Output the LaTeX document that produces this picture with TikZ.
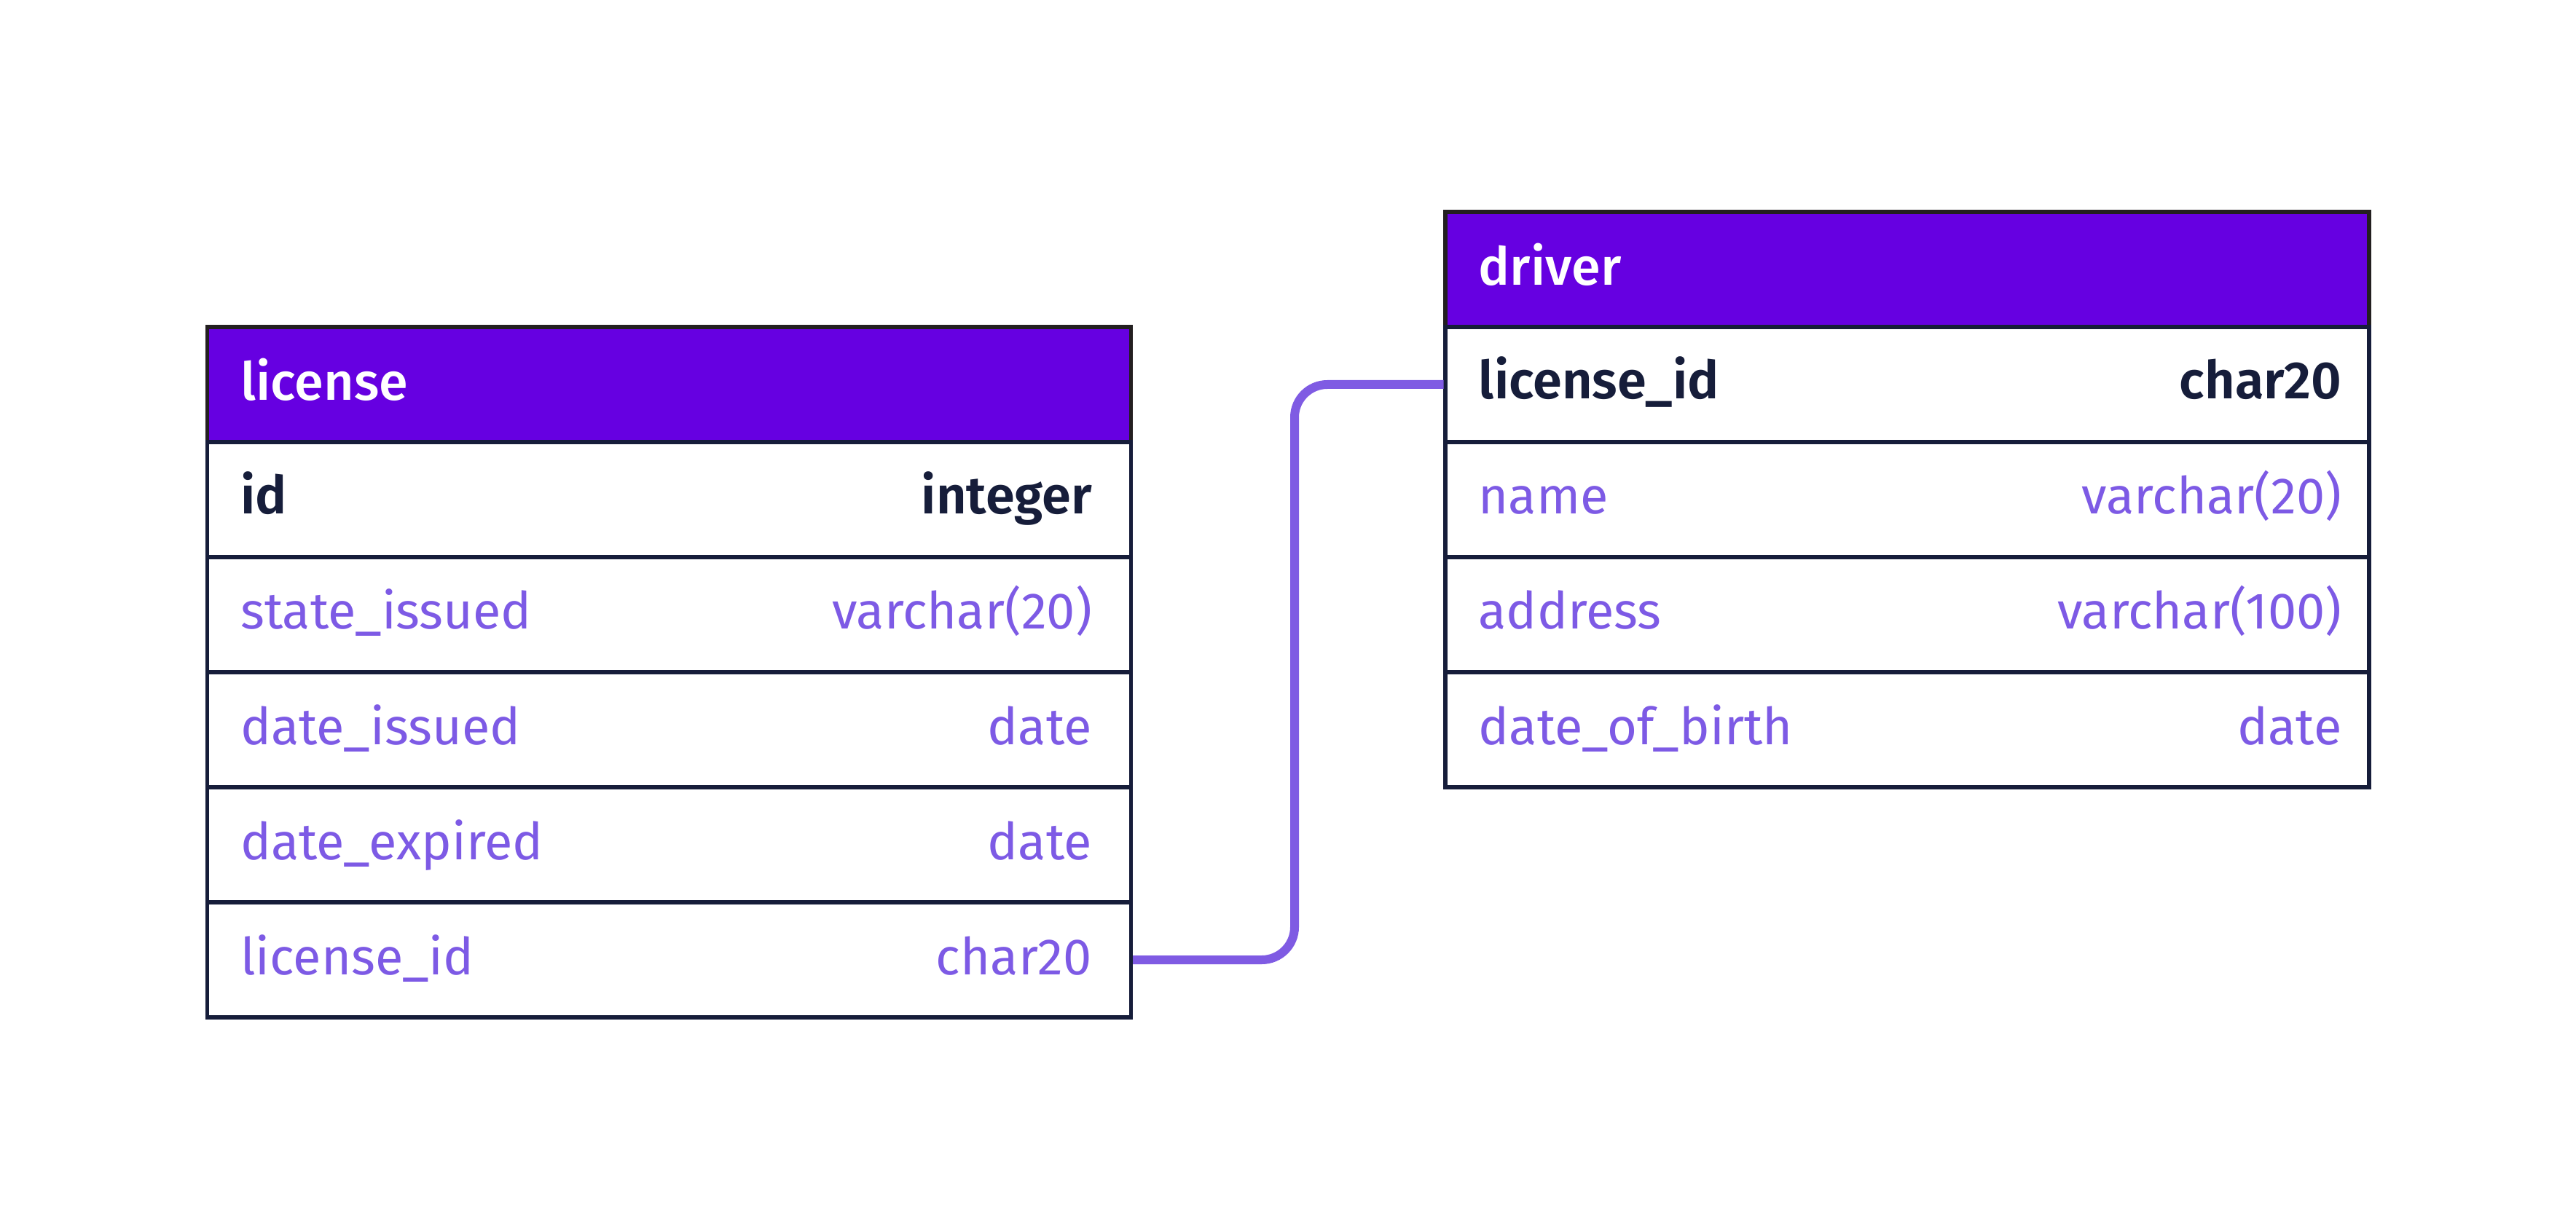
\documentclass[tikz,border=0pt]{standalone}
\usepackage{fontspec}
\setmainfont{Fira Sans}
\newfontfamily\headfont{Fira Sans Medium}
\newfontfamily\keyfont{Fira Sans SemiBold}
\usepackage{xcolor}
\definecolor{headfill}{HTML}{6600E1}
\definecolor{gridline}{HTML}{161D3A}
\definecolor{headedge}{HTML}{231F20}
\definecolor{fieldtext}{HTML}{7D5AE5}
\definecolor{keytext}{HTML}{161D3A}
\definecolor{linkline}{HTML}{7F5BE3}
\usepackage{tikz}
\usetikzlibrary{positioning}

\begin{document}
\begin{tikzpicture}[
  font=\fontsize{20}{24}\selectfont,
  cell/.style={
    draw=gridline, line width=0.055cm, fill=white, outer sep=0pt,
    minimum width=12.68cm, minimum height=1.58cm, inner sep=0pt
  },
  headcell/.style={cell, draw=headedge, fill=headfill},
  headname/.style={text=white, font=\fontsize{20.5}{24}\headfont,
    anchor=base west, inner sep=0pt},
  keyname/.style={text=keytext, font=\fontsize{20.5}{24}\keyfont,
    anchor=base west, inner sep=0pt},
  keytype/.style={keyname, anchor=base east},
  fieldname/.style={text=fieldtext, anchor=base west, inner sep=0pt},
  fieldtype/.style={fieldname, anchor=base east}
]
  \useasboundingbox (0,0) rectangle (35.36,-16.78);

  % license table
  \node[headcell] (lic-h) at (9.185,-5.28) {};
  \node[cell, below=0pt of lic-h] (lic-1) {};
  \node[cell, below=0pt of lic-1] (lic-2) {};
  \node[cell, below=0pt of lic-2] (lic-3) {};
  \node[cell, below=0pt of lic-3] (lic-4) {};
  \node[cell, below=0pt of lic-4] (lic-5) {};
  \node[headname] (lic-h-n) at ([xshift=0.45cm, yshift=-0.22cm]lic-h.west) {license};
  \node[keyname] (lic-1-n) at ([xshift=0.45cm, yshift=-0.2cm]lic-1.west) {id};
  \node[keytype] (lic-1-t) at ([xshift=-0.53cm, yshift=-0.2cm]lic-1.east) {integer};
  \node[fieldname] (lic-2-n) at ([xshift=0.45cm, yshift=-0.2cm]lic-2.west) {state\_issued};
  \node[fieldtype] (lic-2-t) at ([xshift=-0.53cm, yshift=-0.2cm]lic-2.east) {varchar(20)};
  \node[fieldname] (lic-3-n) at ([xshift=0.45cm, yshift=-0.2cm]lic-3.west) {date\_issued};
  \node[fieldtype] (lic-3-t) at ([xshift=-0.53cm, yshift=-0.2cm]lic-3.east) {date};
  \node[fieldname] (lic-4-n) at ([xshift=0.45cm, yshift=-0.2cm]lic-4.west) {date\_expired};
  \node[fieldtype] (lic-4-t) at ([xshift=-0.53cm, yshift=-0.2cm]lic-4.east) {date};
  \node[fieldname] (lic-5-n) at ([xshift=0.45cm, yshift=-0.2cm]lic-5.west) {license\_id};
  \node[fieldtype] (lic-5-t) at ([xshift=-0.53cm, yshift=-0.2cm]lic-5.east) {char20};

  % driver table
  \node[headcell] (drv-h) at (26.18,-3.70) {};
  \node[cell, below=0pt of drv-h] (drv-1) {};
  \node[cell, below=0pt of drv-1] (drv-2) {};
  \node[cell, below=0pt of drv-2] (drv-3) {};
  \node[cell, below=0pt of drv-3] (drv-4) {};
  \node[headname] (drv-h-n) at ([xshift=0.45cm, yshift=-0.22cm]drv-h.west) {driver};
  \node[keyname] (drv-1-n) at ([xshift=0.45cm, yshift=-0.2cm]drv-1.west) {license\_id};
  \node[keytype] (drv-1-t) at ([xshift=-0.37cm, yshift=-0.2cm]drv-1.east) {char20};
  \node[fieldname] (drv-2-n) at ([xshift=0.45cm, yshift=-0.2cm]drv-2.west) {name};
  \node[fieldtype] (drv-2-t) at ([xshift=-0.37cm, yshift=-0.2cm]drv-2.east) {varchar(20)};
  \node[fieldname] (drv-3-n) at ([xshift=0.45cm, yshift=-0.2cm]drv-3.west) {address};
  \node[fieldtype] (drv-3-t) at ([xshift=-0.37cm, yshift=-0.2cm]drv-3.east) {varchar(100)};
  \node[fieldname] (drv-4-n) at ([xshift=0.45cm, yshift=-0.2cm]drv-4.west) {date\_of\_birth};
  \node[fieldtype] (drv-4-t) at ([xshift=-0.37cm, yshift=-0.2cm]drv-4.east) {date};

  % link
  \draw[linkline, line width=0.12cm, rounded corners=0.45cm]
    ([xshift=0.025cm]lic-5.east) -- ++(2.22,0) |- ([xshift=-0.025cm]drv-1.west);
\end{tikzpicture}
\end{document}
